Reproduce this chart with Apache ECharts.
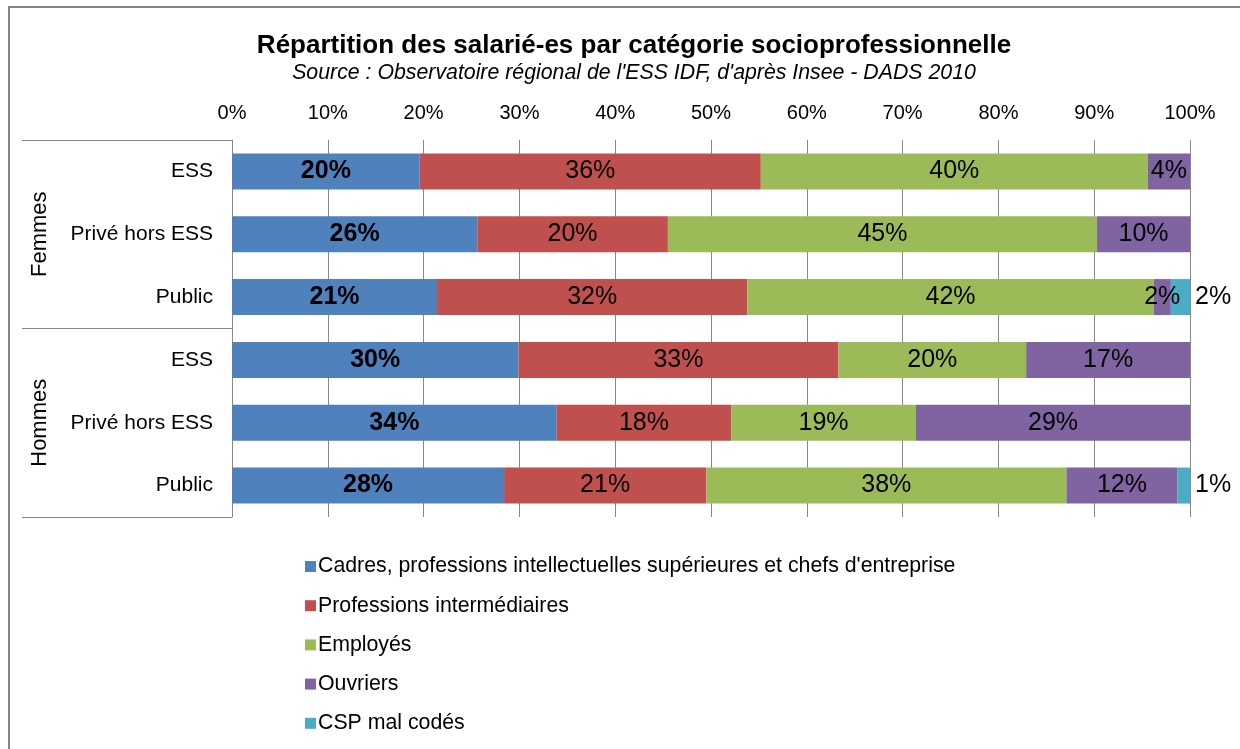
<!DOCTYPE html>
<html lang="fr">
<head>
<meta charset="UTF-8">
<title>Répartition des salarié-es</title>
<script src="https://cdn.jsdelivr.net/npm/echarts@6/dist/echarts.min.js"></script>
<style>
  body { margin: 0; background: #fff; }
  #chart { width: 1240px; height: 749px; }
</style>
</head>
<body>
<div id="chart"></div>
<script type="text/javascript">
  // données (en %)
  var categories = ['ESS', 'Privé hors ESS', 'Public', 'ESS', 'Privé hors ESS', 'Public'];
  var groups = ['Femmes', 'Hommes'];
  var seriesNames = [
    'Cadres, professions intellectuelles supérieures et chefs d\'entreprise',
    'Professions intermédiaires',
    'Employés',
    'Ouvriers',
    'CSP mal codés'
  ];
  var cadres = [19.6, 25.6, 21.4, 29.9, 33.9, 28.4];
  var intermediaires = [35.6, 19.9, 32.4, 33.4, 18.2, 21.1];
  var employes = [40.4, 44.8, 42.4, 19.6, 19.3, 37.6];
  var ouvriers = [4.4, 9.8, 1.8, 17.1, 28.6, 11.6];
  var malCodes = [0, 0, 2.0, 0, 0, 1.4];
  var colors = ['#4F81BD', '#C0504D', '#9BBB59', '#8064A2', '#4BACC6'];

  var font = 'Arial, "Liberation Sans", sans-serif';
  var allData = [cadres, intermediaires, employes, ouvriers, malCodes];

  var chart = echarts.init(document.getElementById('chart'));

  var series = allData.map(function (d, i) {
    return {
      name: seriesNames[i],
      type: 'bar',
      stack: 'total',
      barWidth: 36,
      itemStyle: { color: colors[i] },
      data: d,
      label: {
        show: true,
        position: i === 4 ? 'right' : 'inside',
        distance: 5,
        color: '#000',
        fontFamily: font,
        fontSize: 25,
        fontWeight: i === 0 ? 'bold' : 'normal',
        formatter: function (p) {
          return p.value > 0 ? Math.round(p.value) + '%' : '';
        }
      }
    };
  });

  chart.setOption({
    animation: false,
    textStyle: { fontFamily: font },
    title: {
      text: 'Répartition des salarié-es par catégorie socioprofessionnelle',
      subtext: 'Source : Observatoire régional de l\'ESS IDF, d\'après Insee - DADS 2010',
      left: 629,
      top: 28,
      textAlign: 'center',
      itemGap: 4,
      textStyle: { fontFamily: font, fontSize: 26, fontWeight: 'bold', color: '#000' },
      subtextStyle: { fontFamily: font, fontSize: 21.3, fontStyle: 'italic', color: '#000' }
    },
    legend: {
      orient: 'vertical',
      left: 300,
      top: 551,
      itemGap: 18.2,
      itemWidth: 11,
      itemHeight: 11,
      icon: 'rect',
      data: seriesNames,
      textStyle: { fontFamily: font, fontSize: 21.3, color: '#000', padding: [0, 0, 0, -3] }
    },
    grid: { left: 232, right: 50, top: 140, height: 377, containLabel: false },
    xAxis: {
      type: 'value',
      position: 'top',
      min: 0,
      max: 100,
      interval: 10,
      axisLine: { show: false },
      axisTick: { show: false },
      axisLabel: { formatter: '{value}%', fontFamily: font, fontSize: 20, color: '#000', margin: 17 },
      splitLine: { lineStyle: { color: '#888', width: 1 } }
    },
    yAxis: [
      {
        type: 'category',
        inverse: true,
        data: categories,
        axisLine: { lineStyle: { color: '#888', width: 1 } },
        axisTick: { show: false },
        axisLabel: { fontFamily: font, fontSize: 21, color: '#000', margin: 19 }
      },
      {
        type: 'category',
        inverse: true,
        position: 'left',
        data: groups,
        axisLine: { show: false },
        axisTick: { show: true, length: 210, lineStyle: { color: '#888', width: 1 } },
        axisLabel: { rotate: 90, fontFamily: font, fontSize: 22, color: '#000', margin: 181 }
      }
    ],
    graphic: [{
      type: 'rect',
      shape: { x: 9, y: 7, width: 1250, height: 760 },
      style: { fill: 'none', stroke: '#888', lineWidth: 2 },
      silent: true
    }],
    series: series
  });
</script>
</body>
</html>
